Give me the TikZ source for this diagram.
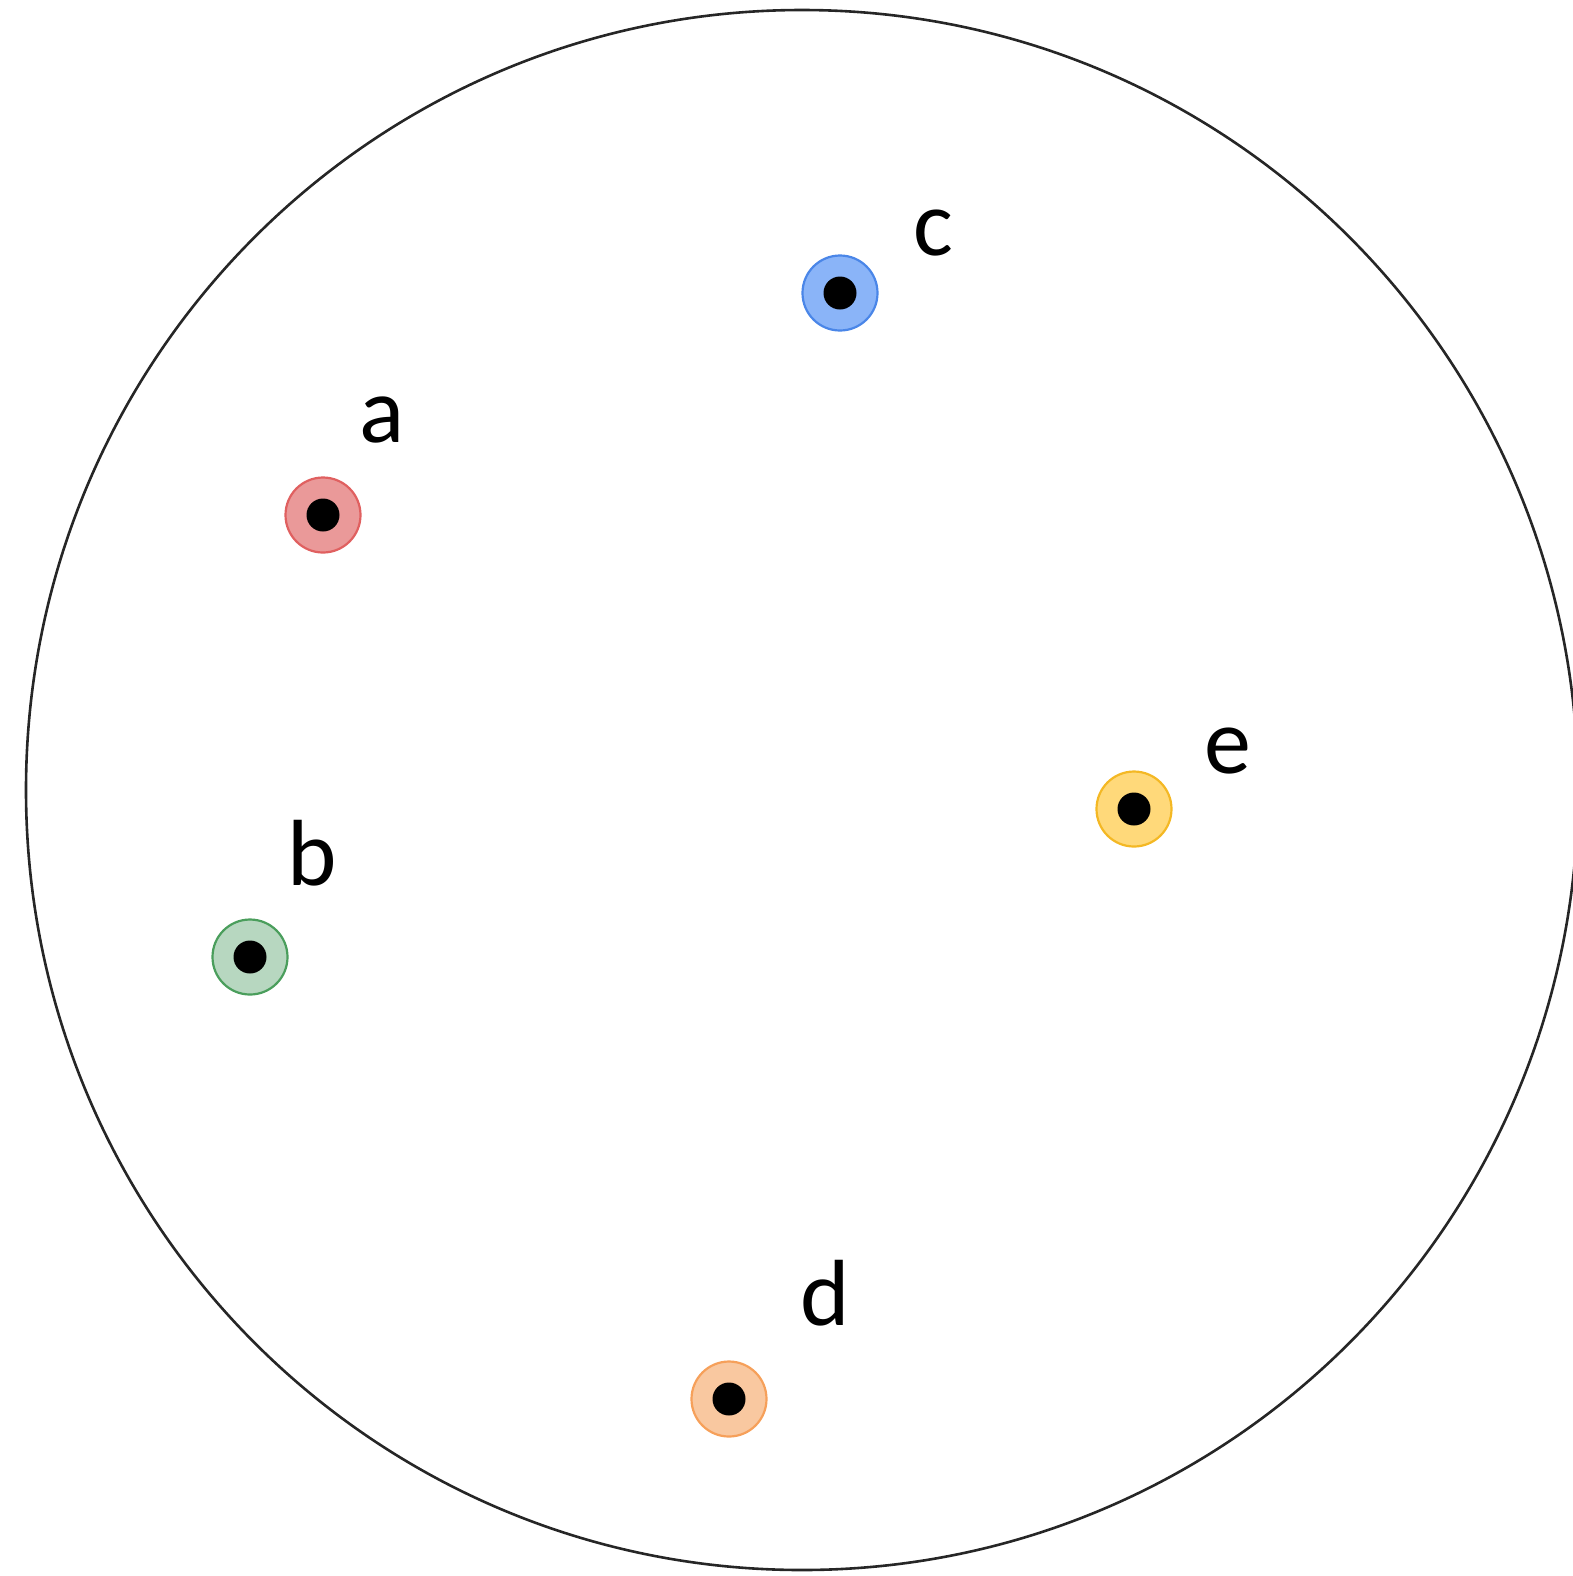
\documentclass[tikz,border=0pt]{standalone}
\usepackage{fontspec}
\usetikzlibrary{shapes.geometric}
\setmainfont{Carlito}
\definecolor{redfill}{HTML}{EA9999}
\definecolor{redline}{HTML}{E06060}
\definecolor{bluefill}{HTML}{8AB4F8}
\definecolor{blueline}{HTML}{4A86E8}
\definecolor{greenfill}{HTML}{B7D7C0}
\definecolor{greenline}{HTML}{4A9E5C}
\definecolor{orangefill}{HTML}{F9C8A0}
\definecolor{orangeline}{HTML}{F6A05A}
\definecolor{yellowfill}{HTML}{FFD97A}
\definecolor{yellowline}{HTML}{F4B824}
\begin{document}
\begin{tikzpicture}[x=0.5pt,y=-0.5pt,
  ring/.style={circle,draw=#1line,fill=#1fill,line width=1.1pt,minimum size=37.5pt,inner sep=0pt},
  core/.style={circle,fill=black,minimum size=16.5pt,inner sep=0pt},
  lbl/.style={anchor=base,font=\fontsize{47}{56}\selectfont,inner sep=0pt}]
\useasboundingbox (0,0) rectangle (1573,1576);
\node[ellipse,draw=black!85,line width=1.3pt,minimum width=776pt,minimum height=780pt,inner sep=0pt] (world) at (802,790) {};
% a
\node[ring=red] (ra) at (323,515) {};
\node[core] (pa) at (ra.center) {};
\node[lbl] (la) at (382,442) {a};
% b
\node[ring=green] (rb) at (250,957) {};
\node[core] (pb) at (rb.center) {};
\node[lbl] (lb) at (312,885) {b};
% c
\node[ring=blue] (rc) at (840,293) {};
\node[core] (pc) at (rc.center) {};
\node[lbl] (lc) at (933,255) {c};
% d
\node[ring=orange] (rd) at (729,1399) {};
\node[core] (pd) at (rd.center) {};
\node[lbl] (ld) at (825,1325) {d};
% e
\node[ring=yellow] (re) at (1134,809) {};
\node[core] (pe) at (re.center) {};
\node[lbl] (le) at (1228,773) {e};
\end{tikzpicture}
\end{document}
